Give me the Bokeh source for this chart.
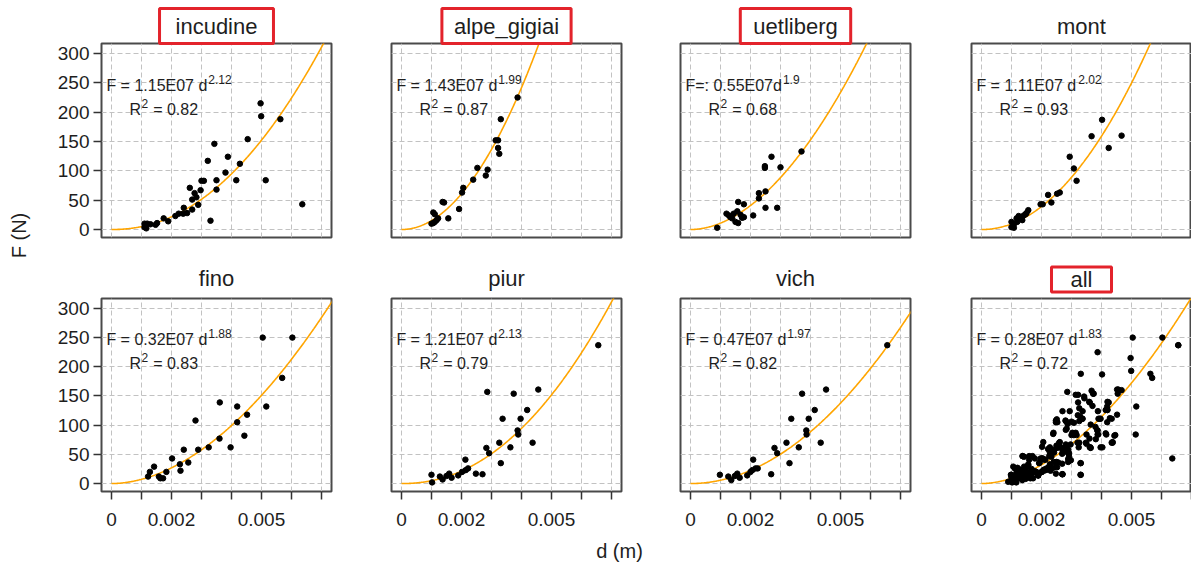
import math
import numpy as np
from bokeh.plotting import figure
from bokeh.layouts import row, column
from bokeh.models import FixedTicker, Label, Range1d
from bokeh.embed import file_html
from bokeh.resources import INLINE

# ---------------- data ----------------
sites = ["incudine", "alpe_gigiai", "uetliberg", "mont", "fino", "piur", "vich", "all"]
highlighted = ["incudine", "alpe_gigiai", "uetliberg", "all"]
coef_a = [1.15e7, 1.43e7, 0.55e7, 1.11e7, 0.32e7, 1.21e7, 0.47e7, 0.28e7]
coef_b = [2.12, 1.99, 1.9, 2.02, 1.88, 2.13, 1.97, 1.83]
eq_main = ["F = 1.15E07 d", "F = 1.43E07 d", "F=: 0.55E07d", "F = 1.11E07 d",
           "F = 0.32E07 d", "F = 1.21E07 d", "F = 0.47E07 d", "F = 0.28E07 d"]
eq_exp = ["2.12", "1.99", "1.9", "2.02", "1.88", "2.13", "1.97", "1.83"]
r2_vals = ["0.82", "0.87", "0.68", "0.93", "0.83", "0.79", "0.82", "0.72"]

x_ticks = [0, 0.001, 0.002, 0.003, 0.004, 0.005, 0.006, 0.007]
x_tick_labels = ["0", "", "0.002", "", "", "0.005", "", ""]
y_ticks = [0, 50, 100, 150, 200, 250, 300]

d_incudine = [0.00497, 0.00499, 0.00563, 0.00454, 0.00343, 0.00321, 0.00388, 0.00428, 0.00380, 0.00300,
              0.00308, 0.00350, 0.00416, 0.00514, 0.00261, 0.00297, 0.00350, 0.00277, 0.00269, 0.00283,
              0.00289, 0.00241, 0.00269, 0.00252, 0.00224, 0.00239, 0.00213, 0.00174, 0.00330, 0.00189,
              0.00110, 0.00119, 0.00130, 0.00147, 0.00152, 0.00110, 0.00116, 0.00636]
F_incudine = [215, 193, 188, 154, 146, 117, 124, 112, 97, 83,
              83, 84, 84, 84, 71, 67, 68, 62, 51, 55,
              42, 37, 34, 28, 27, 27, 23, 19, 15, 14,
              10, 10, 9, 8, 11, 4, 2, 43]

d_alpe = [0.00387, 0.00331, 0.00314, 0.00322, 0.00322, 0.00326, 0.00253, 0.00239, 0.00287, 0.00281,
          0.00206, 0.00202, 0.00137, 0.00142, 0.00192, 0.00156, 0.00106, 0.00111, 0.00122, 0.00117,
          0.00106, 0.00100, 0.00111]
F_alpe = [225, 188, 152, 152, 139, 129, 105, 85, 102, 92,
          71, 63, 47, 46, 35, 19, 29, 26, 19, 16,
          11, 10, 13]

d_uetliberg = [0.0037, 0.0027, 0.00248, 0.00248, 0.0030, 0.00228, 0.0025, 0.00228, 0.0025, 0.00289,
               0.00159, 0.00178, 0.0012, 0.00128, 0.00144, 0.00156, 0.00167, 0.00178, 0.00139, 0.0015,
               0.00159, 0.00209, 0.00172, 0.00089, 0.00133]
F_uetliberg = [133, 124, 108, 105, 106, 62, 65, 53, 37, 37,
               47, 43, 27, 24, 27, 31, 25, 21, 19, 13,
               11, 24, 20, 3, 21]

d_mont = [0.00402, 0.00367, 0.00467, 0.00424, 0.00294, 0.00308, 0.00317, 0.00222, 0.00261, 0.00252,
          0.00233, 0.00204, 0.00197, 0.00156, 0.0015, 0.00141, 0.00133, 0.00124, 0.00117, 0.00136,
          0.00119, 0.001, 0.00108, 0.001, 0.00108, 0.00147, 0.0013]
F_mont = [187, 159, 160, 139, 124, 104, 83, 59, 63, 61,
          46, 43, 43, 33, 28, 24, 21, 23, 19, 16,
          13, 13, 9, 4, 3, 26, 19]

d_fino = [0.00504, 0.00603, 0.00569, 0.00516, 0.00419, 0.00361, 0.00452, 0.00419, 0.00443, 0.00397,
          0.0036, 0.00324, 0.00289, 0.0028, 0.00241, 0.00256, 0.00228, 0.0023, 0.00202, 0.00183,
          0.00142, 0.00128, 0.00122, 0.00158, 0.00163, 0.00172]
F_fino = [250, 250, 181, 132, 132, 139, 118, 105, 82, 62,
          77, 62, 58, 108, 58, 36, 33, 22, 43, 20,
          29, 20, 12, 12, 9, 9]

d_piur = [0.00656, 0.00286, 0.00374, 0.00456, 0.00419, 0.00337, 0.00397, 0.00387, 0.00389, 0.00326,
          0.00437, 0.00363, 0.00283, 0.00292, 0.00331, 0.00213, 0.00222, 0.00214, 0.00202, 0.00189,
          0.00248, 0.0027, 0.00159, 0.00167, 0.00137, 0.00128, 0.001, 0.00102, 0.0015]
F_piur = [237, 157, 154, 161, 126, 111, 111, 91, 84, 70,
          70, 62, 61, 52, 35, 41, 26, 23, 20, 14,
          17, 16, 17, 10, 7, 12, 15, 2, 13]

d_vich = [0.00656, 0.00372, 0.00452, 0.00414, 0.00336, 0.00394, 0.00386, 0.00387, 0.0032, 0.00434,
          0.00361, 0.0028, 0.00289, 0.0033, 0.00209, 0.00217, 0.00224, 0.00206, 0.00189, 0.002,
          0.00269, 0.00156, 0.00164, 0.00136, 0.00126, 0.00098, 0.00148]
F_vich = [237, 154, 161, 126, 111, 111, 91, 84, 70, 70,
          62, 61, 52, 35, 41, 26, 26, 23, 14, 20,
          16, 17, 10, 6, 12, 15, 13]

# extra points only visible in the pooled "all" panel
d_all_extra = [0.00342, 0.00359, 0.0042, 0.00337, 0.0042, 0.00329, 0.0039, 0.00434, 0.00251, 0.00281,
               0.00326, 0.00284, 0.00364, 0.00303, 0.00314, 0.00414, 0.00446, 0.0024, 0.00259, 0.00281,
               0.00348, 0.00364, 0.00403, 0.00381, 0.00437, 0.00331, 0.0027, 0.00292, 0.00298, 0.0027,
               0.00242, 0.00226, 0.00248, 0.00226, 0.00194, 0.0017, 0.00137, 0.00159]
F_all_extra = [149, 140, 140, 124, 126, 115, 111, 111, 110, 107,
               107, 94, 101, 87, 87, 86, 83, 87, 70, 67,
               70, 61, 62, 76, 71, 15, 16, 46, 40, 57,
               53, 47, 36, 29, 36, 47, 47, 41]

d_all = d_incudine + d_alpe + d_uetliberg + d_mont + d_fino + d_piur + d_vich + d_all_extra
F_all = F_incudine + F_alpe + F_uetliberg + F_mont + F_fino + F_piur + F_vich + F_all_extra

site_d = [d_incudine, d_alpe, d_uetliberg, d_mont, d_fino, d_piur, d_vich, d_all]
site_F = [F_incudine, F_alpe, F_uetliberg, F_mont, F_fino, F_piur, F_vich, F_all]

# ---------------- style / layout ----------------
FONT = "Liberation Sans"
TXT = "#1e1e1e"
ORANGE = "#FFA500"
RED = "#E3232B"
X_LO = -0.000333
PX_PER_D = 30000.0
Y_LO, Y_HI = -13.6, 317.0
COL_W = [321, 290, 290, 250]
BORDER_L = [61, 30, 29, 30]
BORDER_R = [30, 30, 31, 0]
ROW_H = [255, 282]
BORDER_T = [43, 43]
BORDER_B = [18, 46]
TITLE_PAD = {"incudine": (16, 5), "alpe_gigiai": (12, 5), "uetliberg": (13, 5), "all": (19, 0)}

AW = {" ": 278, "=": 584, ".": 278, ":": 278, "F": 611, "E": 667, "R": 722, "d": 556}


def text_w(s, fs):
    return sum(AW.get(c, 556) for c in s) * fs / 1000.0


def make_panel(i):
    r, c = divmod(i, 4)
    name = sites[i]
    frame_w = COL_W[c] - BORDER_L[c] - BORDER_R[c]
    x_hi = X_LO + frame_w / PX_PER_D
    p = figure(width=COL_W[c], height=ROW_H[r], output_backend="svg", toolbar_location=None,
               x_range=Range1d(X_LO, x_hi), y_range=Range1d(Y_LO, Y_HI),
               min_border_left=BORDER_L[c], min_border_right=BORDER_R[c],
               min_border_top=BORDER_T[r], min_border_bottom=BORDER_B[r],
               title=name)
    p.background_fill_color = "white"
    p.border_fill_color = "white"
    p.outline_line_color = "#4a4a4a"
    p.outline_line_width = 2

    # title
    t = p.title
    t.align = "center"
    t.text_font = FONT
    t.text_font_size = "22px"
    t.text_font_style = "normal"
    t.text_color = TXT
    if name in TITLE_PAD:
        t.border_line_color = RED
        t.border_line_width = 3
        t.padding = TITLE_PAD[name]
        t.standoff = 0 if r == 0 else 13
    else:
        t.padding = (0, 5)
        t.standoff = 0 if r == 0 else 5

    # axes
    xt = FixedTicker(ticks=x_ticks)
    yt = FixedTicker(ticks=y_ticks)
    p.xaxis.ticker = xt
    p.yaxis.ticker = yt
    p.xgrid.ticker = xt
    p.ygrid.ticker = yt
    p.xaxis.major_label_overrides = {t_: l_ for t_, l_ in zip(x_ticks, x_tick_labels)}
    for ax in (p.xaxis[0], p.yaxis[0]):
        ax.axis_line_color = None
        ax.minor_tick_line_color = None
        ax.major_tick_in = 0
        ax.major_tick_out = 8
        ax.major_tick_line_color = "#333333"
        ax.major_tick_line_width = 1.5
        ax.major_label_text_font = FONT
        ax.major_label_text_font_size = "19px"
        ax.major_label_text_color = TXT
    p.xaxis.major_label_standoff = 13
    p.yaxis.major_label_standoff = 4
    p.xaxis.visible = (r == 1)
    p.yaxis.visible = (c == 0)
    p.grid.grid_line_color = "#c2c2c2"
    p.grid.grid_line_dash = "5 3"
    p.grid.grid_line_width = 1

    # fitted curve F = a d^b
    dd = np.linspace(0, 0.0075, 300)
    p.line(dd, coef_a[i] * dd ** coef_b[i], line_color=ORANGE, line_width=1.6)
    # points
    p.scatter(site_d[i], site_F[i], size=5.5, fill_color="black", line_color="black")

    # equation text
    ex1, ey1 = -0.00017, 246
    ex2, ey2 = 0.0006, 205
    fs, fss = 16, 12
    common = dict(text_font=FONT, text_color=TXT, text_baseline="middle", text_align="left")
    p.add_layout(Label(x=ex1, y=ey1, text=eq_main[i], text_font_size=f"{fs}px", **common))
    p.add_layout(Label(x=ex1, y=ey1, x_offset=text_w(eq_main[i], fs) + 1, y_offset=6,
                       text=eq_exp[i], text_font_size=f"{fss}px", **common))
    p.add_layout(Label(x=ex2, y=ey2, text="R", text_font_size=f"{fs}px", **common))
    p.add_layout(Label(x=ex2, y=ey2, x_offset=text_w("R", fs) + 0.5, y_offset=6,
                       text="2", text_font_size=f"{fss}px", **common))
    p.add_layout(Label(x=ex2, y=ey2, x_offset=text_w("R", fs) + text_w("2", fss) + text_w(" ", fs) + 1,
                       text="= " + r2_vals[i], text_font_size=f"{fs}px", **common))
    return p


panels = [make_panel(i) for i in range(8)]

# y-axis title
ylab = figure(width=40, height=563, output_backend="svg", toolbar_location=None,
              x_axis_type=None, y_axis_type=None, min_border=0)
ylab.outline_line_color = None
ylab.add_layout(Label(x=18, y=328, x_units="screen", y_units="screen", text="F (N)",
                      angle=math.pi / 2, text_align="center", text_baseline="middle",
                      text_font=FONT, text_font_size="20px", text_color=TXT))

# x-axis title
xlab = figure(width=1151, height=26, output_backend="svg", toolbar_location=None,
              x_axis_type=None, y_axis_type=None, min_border=0)
xlab.outline_line_color = None
xlab.add_layout(Label(x=579, y=13, x_units="screen", y_units="screen", text="d (m)",
                      text_align="center", text_baseline="middle",
                      text_font=FONT, text_font_size="20px", text_color=TXT))

layout = row(ylab, column(row(*panels[:4]), row(*panels[4:]), xlab))

open("out.html", "w").write(file_html(layout, INLINE))
